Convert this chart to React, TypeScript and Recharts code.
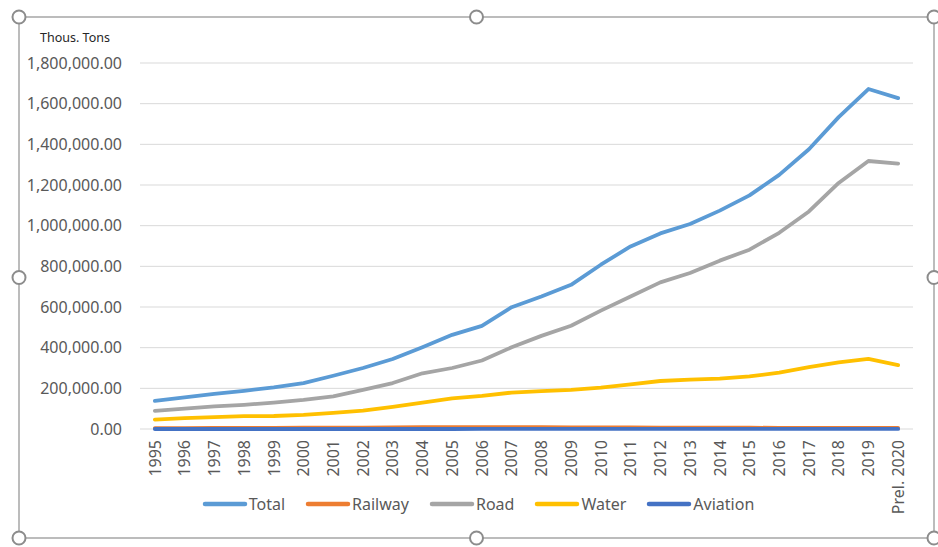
import React from "react";
import { LineChart, Line, XAxis, YAxis, CartesianGrid, Legend } from "recharts";

const years = [
  "1995", "1996", "1997", "1998", "1999", "2000", "2001", "2002", "2003", "2004",
  "2005", "2006", "2007", "2008", "2009", "2010", "2011", "2012", "2013", "2014",
  "2015", "2016", "2017", "2018", "2019", "Prel. 2020",
];

const total = [
  138000, 156000, 173000, 188000, 205000, 226000, 262000, 300000, 344000, 402000,
  463000, 507000, 599000, 652000, 709000, 808000, 898000, 962000, 1008000, 1074000,
  1149000, 1250000, 1376000, 1534000, 1672000, 1627000,
];
const railway = [
  4500, 4600, 4900, 5000, 5200, 6300, 6500, 7000, 8400, 8900,
  8800, 9000, 9100, 8500, 8200, 7900, 7300, 6900, 6500, 7200,
  6700, 5200, 5600, 5700, 5100, 5200,
];
const road = [
  89000, 100000, 111000, 119000, 130000, 143000, 160000, 192000, 226000, 274000,
  300000, 337000, 402000, 458000, 508000, 582000, 652000, 721000, 767000, 828000,
  882000, 965000, 1070000, 1210000, 1318000, 1305000,
];
const water = [
  46000, 53000, 58000, 63000, 64000, 69000, 79000, 90000, 109000, 130000,
  151000, 163000, 179000, 186000, 192000, 203000, 220000, 236000, 243000, 248000,
  259000, 277000, 304000, 328000, 345000, 314000,
];
const aviation = [
  45, 50, 55, 60, 70, 90, 100, 110, 100, 110,
  110, 130, 140, 130, 150, 190, 180, 190, 210, 220,
  250, 300, 380, 420, 450, 280,
];

const yTicks = [0, 200000, 400000, 600000, 800000, 1000000, 1200000, 1400000, 1600000, 1800000];

const series = [
  { key: "Total", color: "#5B9BD5" },
  { key: "Railway", color: "#ED7D31" },
  { key: "Road", color: "#A5A5A5" },
  { key: "Water", color: "#FFC000" },
  { key: "Aviation", color: "#4472C4" },
];

const data = years.map((year, i) => ({
  year,
  Total: total[i],
  Railway: railway[i],
  Road: road[i],
  Water: water[i],
  Aviation: aviation[i],
}));

const FONT = "'Noto Sans', 'Open Sans', sans-serif";
const TEXT = "#595959";

const fmt = (v: number) =>
  v.toLocaleString("en-US", { minimumFractionDigits: 2, maximumFractionDigits: 2 });

function YearTick({ x, y, payload }: any) {
  return (
    <g transform={`translate(${x},${y + 3})`}>
      <text transform="rotate(-90)" textAnchor="end" dy="0.36em" fill={TEXT} fontSize={16} fontFamily={FONT}>
        {payload.value}
      </text>
    </g>
  );
}

function LegendBox() {
  return (
    <div style={{ display: "flex", justifyContent: "center", alignItems: "center", paddingLeft: 25, fontFamily: FONT, fontSize: 16, color: TEXT }}>
      {series.map((s) => (
        <div key={s.key} style={{ display: "flex", alignItems: "center", margin: "0 10px" }}>
          <svg width={46} height={10}>
            <line x1={3} y1={5} x2={43} y2={5} stroke={s.color} strokeWidth={4.5} strokeLinecap="round" />
          </svg>
          <span style={{ marginLeft: 1 }}>{s.key}</span>
        </div>
      ))}
    </div>
  );
}

function Frame() {
  const l = 19, t = 17, r = 934, b = 538;
  const mx = (l + r) / 2, my = (t + b) / 2;
  const handles = [[l, t], [mx, t], [r, t], [l, my], [r, my], [l, b], [mx, b], [r, b]];
  return (
    <svg width={938} height={547} style={{ position: "absolute", left: 0, top: 0, pointerEvents: "none" }}>
      <rect x={l} y={t} width={r - l} height={b - t} fill="none" stroke="#a6a6a6" strokeWidth={1.5} />
      {handles.map(([hx, hy], i) => (
        <circle key={i} cx={hx} cy={hy} r={6.5} fill="#fff" stroke="#8c8c8c" strokeWidth={2} />
      ))}
    </svg>
  );
}

export default function App() {
  return (
    <div style={{ position: "absolute", left: 0, top: 0, width: 938, height: 547, background: "#fff" }}>
      <div style={{ position: "absolute", left: 40, top: 29, fontFamily: FONT, fontSize: 12.5, color: "#262626" }}>
        Thous. Tons
      </div>
      <LineChart width={938} height={547} data={data} margin={{ top: 63, right: 25, bottom: 30, left: 18 }}>
        <CartesianGrid vertical={false} stroke="#d9d9d9" strokeWidth={1} />
        <XAxis
          dataKey="year"
          scale="band"
          axisLine={false}
          tickLine={false}
          interval={0}
          height={64}
          tick={<YearTick />}
        />
        <YAxis
          domain={[0, 1800000]}
          ticks={yTicks}
          width={122}
          axisLine={false}
          tickLine={false}
          tickMargin={12}
          tickFormatter={fmt}
          tick={{ fill: TEXT, fontSize: 16, fontFamily: FONT }}
        />
        <Legend verticalAlign="bottom" height={24} content={() => <LegendBox />} />
        {series.map((s) => (
          <Line
            key={s.key}
            type="linear"
            dataKey={s.key}
            stroke={s.color}
            strokeWidth={3.8}
            strokeLinecap="round"
            strokeLinejoin="round"
            dot={false}
            isAnimationActive={false}
          />
        ))}
      </LineChart>
      <Frame />
    </div>
  );
}
